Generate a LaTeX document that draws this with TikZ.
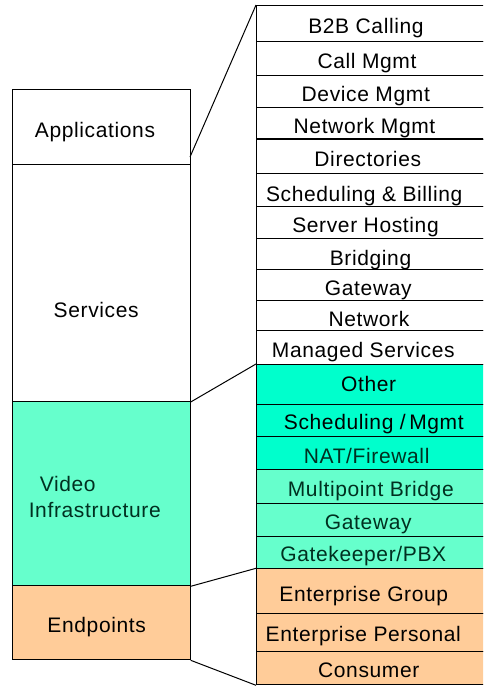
\documentclass[tikz,border=0pt]{standalone}
\usepackage{fontspec}
\setmainfont{Liberation Sans}[LetterSpace=3]
\definecolor{aquaA}{RGB}{0,255,204}
\definecolor{aquaB}{RGB}{102,255,204}
\definecolor{peach}{RGB}{255,204,153}
\definecolor{darkgreen}{RGB}{0,48,32}
\begin{document}
\begin{tikzpicture}[x=1pt,y=-1pt,
  line width=1pt,
  lbox/.style={draw=black, line width=1pt, inner sep=0pt, minimum width=177.4pt, anchor=north west},
  rbox/.style={draw=black, line width=1pt, inner sep=0pt, minimum width=240pt, anchor=north west},
  txt/.style={inner sep=0pt, anchor=base, font=\fontsize{21}{25}\selectfont},
  ltxt/.style={txt, anchor=base west},
  conn/.style={draw=black, line width=1pt}]
\useasboundingbox (0,0) rectangle (483,686);
\begin{scope}
\clip (0,0) rectangle (483,686);
% left column
\node[lbox, fill=white, minimum height=74.4pt] (app) at (12.3,89.3) {};
\node[lbox, fill=white, minimum height=237.3pt] (serv) at (12.3,163.7) {};
\node[lbox, fill=aquaB, minimum height=184.3pt] (video) at (12.3,401) {};
\node[lbox, fill=peach, minimum height=74pt] (endp) at (12.3,585.3) {};
% right column
\node[rbox, fill=white, minimum height=36.3pt] (r1) at (256,5) {};
\node[rbox, fill=white, minimum height=33.7pt] (r2) at (256,41.3) {};
\node[rbox, fill=white, minimum height=31.7pt] (r3) at (256,75) {};
\node[rbox, fill=white, minimum height=32.3pt] (r4) at (256,106.7) {};
\node[rbox, fill=white, minimum height=33.7pt] (r5) at (256,139) {};
\node[rbox, fill=white, minimum height=33.3pt] (r6) at (256,172.7) {};
\node[rbox, fill=white, minimum height=31.7pt] (r7) at (256,206) {};
\node[rbox, fill=white, minimum height=31.3pt] (r8) at (256,237.7) {};
\node[rbox, fill=white, minimum height=31.3pt] (r9) at (256,269) {};
\node[rbox, fill=white, minimum height=29.7pt] (r10) at (256,300.3) {};
\node[rbox, fill=white, minimum height=34pt] (r11) at (256,330) {};
\node[rbox, fill=aquaA, minimum height=40pt] (r12) at (256,364) {};
\node[rbox, fill=aquaA, minimum height=32pt] (r13) at (256,404) {};
\node[rbox, fill=aquaA, minimum height=33.3pt] (r14) at (256,436) {};
\node[rbox, fill=aquaB, minimum height=33.4pt] (r15) at (256,469.3) {};
\node[rbox, fill=aquaB, minimum height=33pt] (r16) at (256,502.7) {};
\node[rbox, fill=aquaB, minimum height=32.6pt] (r17) at (256,535.7) {};
\node[rbox, fill=peach, minimum height=44.4pt] (r18) at (256,568.3) {};
\node[rbox, fill=peach, minimum height=38pt] (r19) at (256,612.7) {};
\node[rbox, fill=peach, minimum height=33.6pt] (r20) at (256,650.7) {};
\draw[line width=1.8pt] (r5.north west) -- (r5.north east);
\end{scope}
% connectors
\coordinate (c1) at (190,157);
\draw[conn] (c1) -- (r1.north west);
\draw[conn] (serv.south east) -- (r12.north west);
\draw[conn] (video.south east) -- (r18.north west);
\draw[conn] (endp.south east) -- (r20.south west);
% left labels
\node[txt] (tapp) at (95,137.3) {Applications};
\node[txt] (tserv) at (96.2,317.3) {Services};
\node[ltxt, text=darkgreen] (tvid1) at (39.3,491.7) {Video};
\node[ltxt, text=darkgreen] (tvid2) at (28.3,517.7) {Infrastructure};
\node[txt] (tendp) at (96.7,632.7) {Endpoints};
% right labels
\node[txt] (t1) at (366,33.3) {B2B Calling};
\node[txt] (t2) at (367,68.3) {Call Mgmt};
\node[txt] (t3) at (365.8,101) {Device Mgmt};
\node[txt] (t4) at (364.5,133.3) {Network Mgmt};
\node[txt] (t5) at (367.8,166.7) {Directories};
\node[txt] (t6) at (364.2,201.7) {Scheduling \& Billing};
\node[txt] (t7) at (365.5,232.7) {Server Hosting};
\node[txt] (t8) at (370.5,265.7) {Bridging};
\node[txt] (t9) at (368.3,295) {Gateway};
\node[txt] (t10) at (369,326.7) {Network};
\node[txt] (t11) at (363.3,357.3) {Managed Services};
\node[txt] (t12) at (368.7,391.7) {Other};
\node[txt] (t13) at (373.8,429.3) {Scheduling\ /\,Mgmt};
\node[txt, text=darkgreen] (t14) at (366.7,463.3) {NAT/Firewall};
\node[txt, text=darkgreen] (t15) at (370.8,496) {Multipoint Bridge};
\node[txt, text=darkgreen] (t16) at (368.3,529.3) {Gateway};
\node[txt, text=darkgreen] (t17) at (363.3,561.7) {Gatekeeper/PBX};
\node[txt] (t18) at (363.8,601.7) {Enterprise Group};
\node[txt] (t19) at (363.3,641.7) {Enterprise Personal};
\node[txt] (t20) at (368.8,677.3) {Consumer};
\end{tikzpicture}
\end{document}
